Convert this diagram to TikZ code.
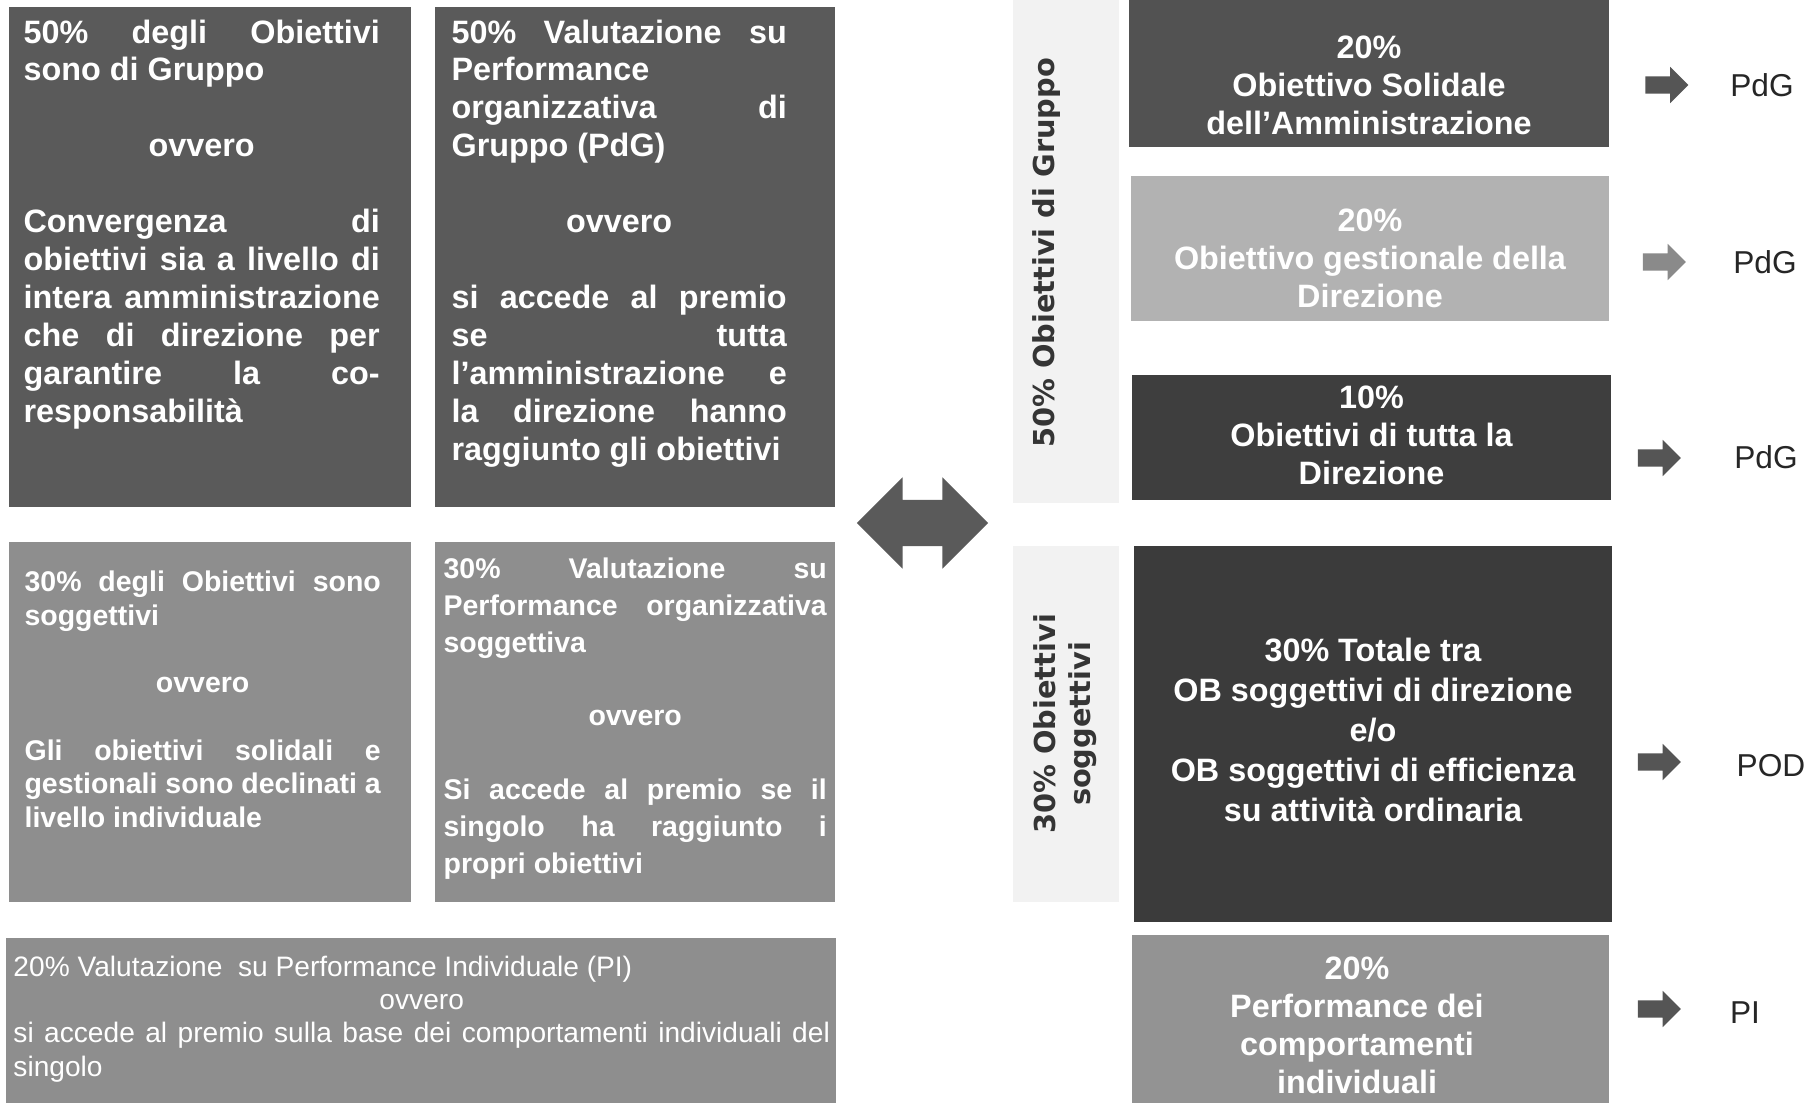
\documentclass[tikz,border=0pt]{standalone}
\usepackage{fontspec}
\setmainfont{Liberation Sans}
\newfontfamily\sidefont{DejaVu Sans}
\usepackage{xcolor}
\usepackage{tikz}
\usetikzlibrary{shapes.arrows}

\definecolor{gruppodark}{HTML}{5A5A5A}
\definecolor{soggmid}{HTML}{8E8E8E}
\definecolor{solidark}{HTML}{525252}
\definecolor{gestlight}{HTML}{B2B2B2}
\definecolor{dirdark}{HTML}{3E3E3E}
\definecolor{poddark}{HTML}{3B3B3B}
\definecolor{pimid}{HTML}{939393}
\definecolor{bandgray}{HTML}{F2F2F2}
\definecolor{arrgray}{HTML}{555555}
\definecolor{arrlight}{HTML}{8A8A8A}
\definecolor{sidegray}{HTML}{353535}

\newcommand{\gapline}{\par\vspace{\baselineskip}}
\hyphenpenalty=10000
\tolerance=9999

\begin{document}
\begin{tikzpicture}[
    x=0.01cm, y=-0.01cm,
    panel/.style={inner sep=0pt, outer sep=0pt, draw=none},
    boxtxt/.style={anchor=north west, inner sep=0pt, align=justify, text=white,
                   font=\fontsize{9.2}{10.8}\selectfont\bfseries},
    smalltxt/.style={boxtxt, font=\fontsize{8.1}{9.6}\selectfont\bfseries},
    plaintxt/.style={boxtxt, font=\fontsize{8}{9.5}\selectfont},
    rtxt/.style={align=center, inner sep=0pt, text=white,
                 font=\fontsize{9.2}{10.8}\selectfont\bfseries},
    side/.style={rotate=90, align=center, inner sep=0pt, text=sidegray,
                 font=\sidefont\fontsize{8.2}{9.9}\selectfont\bfseries},
    tag/.style={inner sep=0pt, text=black!85, font=\fontsize{9}{10}\selectfont},
    smallarr/.style={single arrow, fill=arrgray, draw=none, inner xsep=0pt,
                     inner ysep=0.08cm, minimum height=0.43cm,
                     single arrow head extend=0.095cm, single arrow head indent=0pt},
]
\fill[white] (0,0) rectangle (1815,1103);
\useasboundingbox (0,0) rectangle (1815,1103);

% Left: description boxes
\node[panel, fill=gruppodark, minimum width=4.02cm, minimum height=5cm] (ga) at (210,257) {};
\node[panel, fill=gruppodark, minimum width=4cm, minimum height=5cm] (gb) at (635,257) {};
\node[panel, fill=soggmid, minimum width=4.02cm, minimum height=3.6cm] (sa) at (210,722) {};
\node[panel, fill=soggmid, minimum width=4cm, minimum height=3.6cm] (sb) at (635,722) {};
\node[panel, fill=soggmid, minimum width=8.3cm, minimum height=1.65cm] (pi) at (421,1020.5) {};

\node[boxtxt, text width=3.56cm] (gaT) at ([xshift=0.14cm,yshift=-0.12cm]ga.north west)
  {50\% degli Obiettivi\linebreak sono di Gruppo\gapline
   {\centering ovvero\par}\gapline
   Convergenza di\linebreak obiettivi sia a livello di\linebreak intera amministrazione\linebreak
   che di direzione per\linebreak garantire la co-\linebreak responsabilità};
\node[boxtxt, text width=3.35cm] (gbT) at ([xshift=0.16cm,yshift=-0.12cm]gb.north west)
  {50\% Valutazione su\linebreak Performance\linebreak organizzativa di\linebreak Gruppo (PdG)\gapline
   {\centering ovvero\par}\gapline
   si accede al premio\linebreak se tutta\linebreak l'amministrazione e\linebreak
   la direzione hanno\linebreak raggiunto gli obiettivi};
\node[smalltxt, text width=3.56cm] (saT) at ([xshift=0.15cm,yshift=-0.28cm]sa.north west)
  {30\% degli Obiettivi sono\linebreak soggettivi\gapline
   {\centering ovvero\par}\gapline
   Gli obiettivi solidali e\linebreak gestionali sono declinati a\linebreak livello individuale};
\node[smalltxt, text width=3.83cm, font=\fontsize{8.1}{10.5}\selectfont\bfseries] (sbT)
  at ([xshift=0.08cm,yshift=-0.15cm]sb.north west)
  {30\% Valutazione su\linebreak Performance organizzativa\linebreak soggettiva\gapline
   {\centering ovvero\par}\gapline
   Si accede al premio se il\linebreak singolo ha raggiunto i\linebreak propri obiettivi};
\node[plaintxt, text width=8.16cm] (piT) at ([xshift=0.07cm,yshift=-0.17cm]pi.north west)
  {20\% Valutazione\ \ su Performance Individuale (PI)\par
   {\centering ovvero\par}
   si accede al premio sulla base dei comportamenti individuali del\linebreak singolo};

% Middle: double arrow
\node[double arrow, fill=gruppodark, inner xsep=0pt, inner ysep=0.225cm,
      minimum height=1.31cm, double arrow head extend=0.225cm] (link) at (922.5,523) {};

% Side bands
\node[panel, fill=bandgray, minimum width=1.06cm, minimum height=5.03cm] (band1) at (1066,251.5) {};
\node[panel, fill=bandgray, minimum width=1.06cm, minimum height=3.56cm] (band2) at (1066,724) {};
\node[side] (band1T) at (1047,253) {50\% Obiettivi di Gruppo};
\node[side] (band2T) at (1065,724) {30\% Obiettivi\\soggettivi};

% Right: weights
\node[panel, fill=solidark, minimum width=4.8cm, minimum height=1.47cm] (r1) at (1369,73.5) {};
\node[panel, fill=gestlight, minimum width=4.78cm, minimum height=1.45cm] (r2) at (1370,248.5) {};
\node[panel, fill=dirdark, minimum width=4.79cm, minimum height=1.25cm] (r3) at (1371.5,437.5) {};
\node[panel, fill=poddark, minimum width=4.78cm, minimum height=3.76cm] (r4) at (1373,734) {};
\node[panel, fill=pimid, minimum width=4.77cm, minimum height=1.68cm] (r5) at (1370.5,1019) {};

\node[rtxt] (r1T) at ([yshift=-0.115cm]r1.center) {20\%\\Obiettivo Solidale\\dell'Amministrazione};
\node[rtxt] (r2T) at ([yshift=-0.095cm]r2.center) {20\%\\Obiettivo gestionale della\\Direzione};
\node[rtxt] (r3T) at ([yshift=0.025cm]r3.center) {10\%\\Obiettivi di tutta la\\Direzione};
\node[rtxt, font=\fontsize{9.2}{11.4}\selectfont\bfseries] (r4T) at ([yshift=0.04cm]r4.center)
  {30\% Totale tra\\OB soggettivi di direzione\\e/o\\OB soggettivi di efficienza\\su attività ordinaria};
\node[rtxt] (r5T) at ([xshift=-0.135cm,yshift=-0.065cm]r5.center) {20\%\\Performance dei\\comportamenti\\individuali};

% Arrows to the outcome
\node[smallarr] (a1) at (1662.5,85) {};
\node[smallarr, fill=arrlight] (a2) at (1660,262) {};
\node[smallarr] (a3) at (1655,458) {};
\node[smallarr] (a4) at (1655,762) {};
\node[smallarr] (a5) at (1655,1009) {};
\node[tag] (t1) at (1762,85) {PdG};
\node[tag] (t2) at (1765,262) {PdG};
\node[tag] (t3) at (1766,457) {PdG};
\node[tag] (t4) at (1771,766) {POD};
\node[tag] (t5) at (1745,1013) {PI};
\end{tikzpicture}
\end{document}
